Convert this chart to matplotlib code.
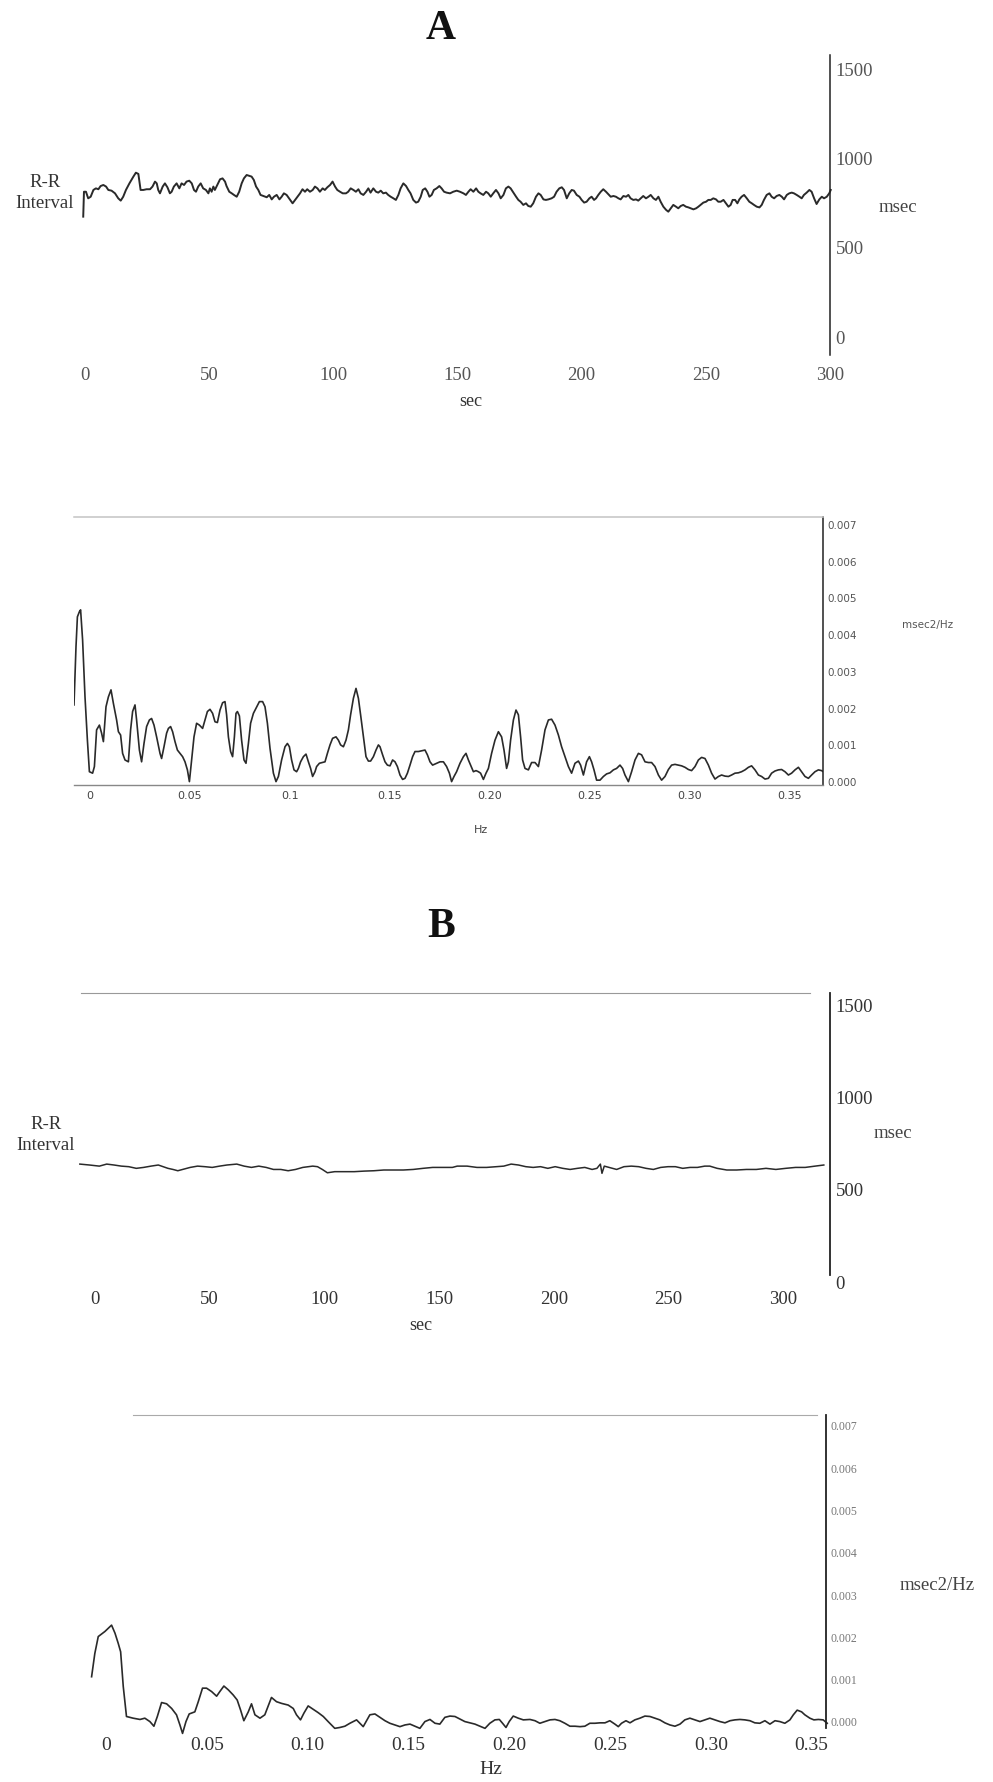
import numpy as np
import matplotlib
matplotlib.use('Agg')
import matplotlib.pyplot as plt

# ---------------- DATA ----------------
# Panel A: R-R interval (sec, msec)
t_a1 = [-0.7, -0.4, 0.4, 1.3, 2.3, 3.4, 4.4, 5.4, 6.3, 7.4,
        8.5, 9.4, 10.7, 12.1, 13.4, 14.4, 15.4, 16.5, 17.9, 19.5,
        20.5, 21.5, 22.4, 23.5, 24.8, 26.2, 27.2, 28.2, 28.9, 29.5,
        30.2, 31.3, 32.2, 33.2, 34.2, 34.9, 35.8, 36.9, 38.0, 38.9,
        39.9, 40.9, 42.0, 43.0, 43.9, 44.7, 45.6, 46.6, 47.6, 48.7,
        49.7, 50.3, 51.0, 51.7, 52.3, 53.3, 54.4, 55.4, 56.4, 57.0,
        58.1, 59.1, 60.0, 61.1, 62.1, 63.1, 64.0, 65.1, 66.2, 67.1,
        68.0, 68.9, 69.8, 70.7, 71.8, 73.2, 74.2, 75.2, 76.1, 77.2,
        78.3, 79.2, 80.1, 81.2, 82.6, 83.6, 84.6, 85.5, 86.6, 87.6,
        88.6, 89.5, 90.6, 91.7, 92.6, 93.6, 94.6, 95.7, 96.6, 97.6,
        98.7, 99.7, 100.7, 101.6, 102.7, 103.8, 105.1, 106.0, 107.0, 108.1,
        109.1, 110.1, 111.0, 112.1, 113.2, 114.1, 115.0, 116.1, 117.2, 118.1,
        119.1, 120.1, 121.2, 122.1, 123.1, 124.2, 125.2, 126.2, 127.1, 128.2,
        129.3, 130.2, 131.1, 132.2, 133.3, 134.2, 135.2, 136.0, 137.0, 137.9,
        138.7, 139.6, 140.5, 141.6, 142.7, 143.6, 144.6, 145.6]
rr_a1 = [676, 816, 816, 779, 788, 826, 835, 830, 848, 854,
         845, 826, 822, 807, 779, 766, 788, 826, 863, 901,
         923, 916, 826, 826, 830, 830, 845, 873, 863, 826,
         807, 845, 863, 841, 807, 816, 845, 863, 835, 863,
         854, 873, 878, 863, 826, 816, 845, 863, 835, 826,
         807, 835, 816, 845, 826, 854, 886, 891, 873, 848,
         816, 807, 798, 788, 816, 863, 891, 910, 905, 901,
         882, 845, 826, 798, 792, 785, 798, 773, 788, 798,
         773, 788, 807, 798, 770, 751, 770, 788, 807, 830,
         816, 830, 816, 826, 845, 835, 816, 835, 826, 841,
         854, 873, 845, 826, 816, 807, 807, 816, 835, 826,
         816, 830, 807, 798, 816, 835, 811, 835, 816, 811,
         822, 807, 811, 798, 788, 779, 770, 798, 835, 863,
         848, 826, 807, 770, 755, 760, 788, 826, 835, 816,
         788, 798, 826, 835, 848, 835, 816, 811]
t_a2 = [147.0, 148.3, 149.7, 151.0, 152.4, 153.4, 154.4, 155.3, 156.4, 157.5,
        158.4, 159.3, 160.4, 161.5, 162.4, 163.4, 164.4, 165.5, 166.5, 167.4,
        168.5, 169.5, 170.5, 171.4, 172.5, 173.6, 174.5, 175.4, 176.5, 177.6,
        178.5, 179.5, 180.5, 181.6, 182.6, 183.5, 184.6, 185.6, 186.6, 187.9,
        188.9, 189.9, 191.0, 192.0, 192.9, 194.0, 195.0, 196.0, 196.9, 198.0,
        199.1, 200.0, 201.0, 202.0, 203.1, 204.0, 205.0, 205.8, 206.7, 207.7,
        208.7, 209.8, 210.7, 211.7, 212.8, 213.8, 214.8, 215.7, 216.8, 217.9,
        218.8, 219.7, 220.8, 221.9, 222.8, 223.8, 224.8, 225.9, 226.9, 227.8,
        228.9, 229.9, 230.9, 231.8, 232.9, 234.0, 234.9, 235.9, 236.9, 238.0,
        238.9, 239.9, 240.9, 242.0, 243.0, 243.9, 245.0, 246.1, 247.0, 247.9,
        249.0, 250.1, 251.0, 252.0, 253.0, 254.1, 255.0, 256.0, 257.1, 258.1,
        259.1, 260.0, 260.8, 261.8, 262.7, 263.5, 264.4, 265.4, 266.5, 267.5,
        268.5, 269.4, 270.5, 271.6, 272.5, 273.4, 274.5, 275.6, 276.5, 277.5,
        278.5, 279.6, 280.6, 281.5, 282.6, 283.6, 284.6, 285.5, 286.6, 287.7,
        288.6, 289.5, 290.6, 291.7, 292.6, 293.6, 294.6, 295.7, 296.7, 297.6,
        298.7, 299.7, 300.3]
rr_a2 = [807, 816, 822, 816, 807, 798, 816, 830, 816, 835,
         816, 807, 798, 816, 807, 788, 807, 826, 807, 779,
         798, 835, 845, 835, 811, 788, 770, 760, 742, 751,
         736, 732, 751, 788, 807, 798, 773, 770, 773, 779,
         788, 816, 835, 841, 826, 779, 807, 826, 822, 798,
         788, 770, 755, 760, 779, 788, 770, 779, 798, 816,
         830, 816, 803, 788, 792, 788, 779, 773, 792, 788,
         798, 779, 770, 773, 766, 779, 792, 779, 788, 798,
         779, 770, 788, 760, 732, 714, 704, 723, 742, 732,
         723, 736, 742, 732, 728, 723, 717, 723, 732, 742,
         755, 760, 770, 770, 779, 773, 760, 760, 770, 751,
         732, 742, 770, 770, 751, 773, 788, 798, 779, 760,
         751, 742, 732, 728, 742, 770, 798, 807, 788, 779,
         792, 798, 788, 773, 798, 807, 811, 807, 798, 788,
         779, 798, 811, 826, 816, 779, 747, 773, 788, 779,
         788, 807, 826]

# Panel A: power spectrum (Hz, value in 0.001 msec2/Hz)
f_a1 = [-0.0080, -0.0070, -0.0063, -0.0053, -0.0047, -0.0037, -0.0025, -0.0013, -0.0003, 0.0013,
        0.0022, 0.0033, 0.0047, 0.0058, 0.0067, 0.0080, 0.0092, 0.0105, 0.0117, 0.0133,
        0.0142, 0.0153, 0.0163, 0.0175, 0.0192, 0.0203, 0.0213, 0.0225, 0.0233, 0.0247,
        0.0258, 0.0270, 0.0283, 0.0297, 0.0308, 0.0320, 0.0333, 0.0350, 0.0358, 0.0370,
        0.0383, 0.0392, 0.0403, 0.0413, 0.0425, 0.0437, 0.0450, 0.0463, 0.0475, 0.0487,
        0.0497, 0.0508, 0.0520, 0.0533, 0.0547, 0.0563, 0.0575, 0.0587, 0.0600, 0.0613,
        0.0625, 0.0637, 0.0650, 0.0663, 0.0675, 0.0683, 0.0692, 0.0703, 0.0713, 0.0722,
        0.0730, 0.0737, 0.0747, 0.0758, 0.0770, 0.0780, 0.0792, 0.0803, 0.0817, 0.0830,
        0.0847, 0.0863, 0.0875, 0.0887, 0.0900, 0.0917, 0.0930, 0.0942, 0.0958, 0.0975,
        0.0987, 0.0997, 0.1008, 0.1020, 0.1033, 0.1042, 0.1053, 0.1067, 0.1080, 0.1092,
        0.1103, 0.1113, 0.1125, 0.1133, 0.1147, 0.1160, 0.1175, 0.1187, 0.1200, 0.1213,
        0.1230, 0.1242, 0.1253, 0.1267, 0.1280, 0.1292, 0.1303, 0.1317, 0.1330, 0.1342,
        0.1353, 0.1367, 0.1380, 0.1392, 0.1403, 0.1417, 0.1430, 0.1442, 0.1450, 0.1463,
        0.1475, 0.1487, 0.1500, 0.1513, 0.1525, 0.1537, 0.1550, 0.1563, 0.1575, 0.1587,
        0.1600, 0.1613, 0.1625, 0.1642, 0.1658, 0.1675, 0.1687, 0.1700, 0.1713, 0.1733,
        0.1750, 0.1767, 0.1783, 0.1797, 0.1808, 0.1820, 0.1833, 0.1850, 0.1867, 0.1880,
        0.1892, 0.1903, 0.1917, 0.1930, 0.1942, 0.1953, 0.1967, 0.1980]
p_a1 = [2.10, 3.69, 4.50, 4.64, 4.69, 3.87, 2.32, 1.14, 0.28, 0.24,
        0.42, 1.42, 1.55, 1.33, 1.10, 2.05, 2.32, 2.51, 2.14, 1.69,
        1.37, 1.28, 0.78, 0.60, 0.55, 1.42, 1.92, 2.10, 1.69, 0.87,
        0.55, 1.05, 1.51, 1.69, 1.73, 1.55, 1.23, 0.78, 0.64, 0.96,
        1.33, 1.46, 1.51, 1.37, 1.10, 0.87, 0.78, 0.69, 0.55, 0.33,
        0.01, 0.60, 1.23, 1.60, 1.55, 1.46, 1.69, 1.92, 1.98, 1.87,
        1.64, 1.62, 1.96, 2.16, 2.19, 1.83, 1.23, 0.83, 0.69, 1.23,
        1.87, 1.92, 1.80, 1.14, 0.60, 0.51, 1.05, 1.60, 1.87, 2.01,
        2.19, 2.19, 2.05, 1.60, 0.92, 0.24, 0.01, 0.15, 0.60, 0.96,
        1.05, 0.96, 0.60, 0.33, 0.28, 0.37, 0.55, 0.69, 0.76, 0.55,
        0.37, 0.15, 0.28, 0.42, 0.51, 0.53, 0.55, 0.78, 1.01, 1.19,
        1.23, 1.14, 1.01, 0.96, 1.14, 1.42, 1.83, 2.28, 2.55, 2.28,
        1.83, 1.23, 0.69, 0.57, 0.57, 0.69, 0.87, 1.01, 0.96, 0.74,
        0.55, 0.46, 0.44, 0.60, 0.55, 0.42, 0.19, 0.07, 0.10, 0.24,
        0.46, 0.69, 0.83, 0.83, 0.85, 0.87, 0.74, 0.55, 0.46, 0.51,
        0.55, 0.55, 0.42, 0.24, 0.01, 0.15, 0.28, 0.51, 0.69, 0.78,
        0.60, 0.46, 0.28, 0.31, 0.28, 0.24, 0.07, 0.24]
f_a2 = [0.1992, 0.2008, 0.2025, 0.2042, 0.2058, 0.2070, 0.2083, 0.2092, 0.2103, 0.2117,
        0.2130, 0.2142, 0.2153, 0.2163, 0.2175, 0.2192, 0.2208, 0.2225, 0.2242, 0.2258,
        0.2275, 0.2292, 0.2308, 0.2325, 0.2342, 0.2358, 0.2375, 0.2392, 0.2408, 0.2425,
        0.2442, 0.2453, 0.2467, 0.2483, 0.2497, 0.2508, 0.2520, 0.2533, 0.2550, 0.2567,
        0.2583, 0.2600, 0.2617, 0.2633, 0.2650, 0.2663, 0.2675, 0.2692, 0.2708, 0.2725,
        0.2742, 0.2758, 0.2775, 0.2792, 0.2808, 0.2825, 0.2842, 0.2858, 0.2875, 0.2892,
        0.2908, 0.2925, 0.2942, 0.2958, 0.2975, 0.2992, 0.3008, 0.3025, 0.3042, 0.3058,
        0.3075, 0.3092, 0.3108, 0.3125, 0.3142, 0.3158, 0.3175, 0.3192, 0.3208, 0.3225,
        0.3242, 0.3258, 0.3275, 0.3292, 0.3308, 0.3325, 0.3342, 0.3358, 0.3375, 0.3392,
        0.3408, 0.3425, 0.3442, 0.3458, 0.3475, 0.3492, 0.3508, 0.3525, 0.3542, 0.3558,
        0.3575, 0.3592, 0.3608, 0.3625, 0.3642, 0.3658, 0.3675]
p_a2 = [0.37, 0.78, 1.14, 1.37, 1.23, 0.87, 0.37, 0.55, 1.14, 1.69,
        1.96, 1.83, 1.23, 0.60, 0.37, 0.33, 0.53, 0.53, 0.42, 0.87,
        1.42, 1.69, 1.71, 1.55, 1.28, 0.96, 0.69, 0.42, 0.24, 0.51,
        0.57, 0.46, 0.19, 0.55, 0.69, 0.55, 0.33, 0.05, 0.05, 0.15,
        0.22, 0.25, 0.33, 0.37, 0.46, 0.37, 0.19, 0.01, 0.28, 0.60,
        0.78, 0.74, 0.55, 0.53, 0.53, 0.42, 0.19, 0.05, 0.15, 0.34,
        0.46, 0.48, 0.46, 0.44, 0.40, 0.34, 0.31, 0.42, 0.60, 0.67,
        0.64, 0.46, 0.24, 0.08, 0.15, 0.19, 0.16, 0.15, 0.19, 0.24,
        0.25, 0.28, 0.33, 0.40, 0.44, 0.33, 0.19, 0.15, 0.08, 0.10,
        0.24, 0.30, 0.33, 0.34, 0.28, 0.19, 0.24, 0.33, 0.40, 0.28,
        0.15, 0.10, 0.19, 0.28, 0.33, 0.31, 0.25]

# Panel B: R-R interval (sec, msec)
t_b = [-6.6, -2.4, 1.9, 5.1, 8.3, 11.5, 14.7, 18.0, 21.2, 24.4,
       27.6, 29.7, 31.8, 34.0, 36.1, 38.2, 41.5, 44.7, 47.9, 51.1,
       54.3, 57.5, 61.8, 65.0, 68.2, 71.4, 74.6, 77.8, 81.0, 84.2,
       87.4, 90.6, 94.9, 97.0, 99.1, 101.3, 104.5, 108.8, 113.0, 117.3,
       121.6, 125.9, 130.1, 134.4, 138.7, 143.0, 147.2, 151.5, 155.8, 157.9,
       162.2, 166.5, 170.7, 175.0, 178.2, 181.4, 184.6, 187.8, 191.0, 194.2,
       197.4, 200.6, 203.9, 207.1, 210.3, 213.5, 216.7, 218.8, 220.3, 221.0,
       222.0, 224.1, 227.4, 230.6, 233.8, 237.0, 240.2, 243.4, 246.6, 249.8,
       253.0, 256.2, 259.4, 262.6, 265.8, 268.0, 271.2, 275.4, 279.7, 284.0,
       288.3, 292.5, 296.8, 301.1, 305.4, 309.6, 313.9, 317.7]
rr_b = [639, 634, 628, 639, 634, 628, 625, 616, 621, 628,
        634, 625, 616, 610, 603, 610, 621, 628, 625, 621,
        628, 634, 639, 628, 621, 628, 621, 610, 610, 603,
        610, 621, 628, 625, 610, 592, 598, 598, 598, 601,
        603, 607, 607, 607, 610, 616, 621, 621, 621, 628,
        628, 621, 621, 625, 628, 639, 634, 625, 621, 625,
        616, 625, 616, 610, 616, 621, 610, 616, 639, 589,
        628, 621, 610, 625, 628, 625, 616, 610, 621, 625,
        625, 616, 621, 621, 628, 628, 616, 607, 607, 610,
        610, 616, 610, 616, 621, 621, 628, 634]

# Panel B: power spectrum (Hz, value in 0.001 msec2/Hz)
f_b1 = [-0.0071, -0.0055, -0.0038, -0.0005, 0.0028, 0.0045, 0.0061, 0.0073, 0.0086, 0.0102,
        0.0135, 0.0169, 0.0193, 0.0218, 0.0238, 0.0255, 0.0276, 0.0301, 0.0326, 0.0350,
        0.0367, 0.0380, 0.0397, 0.0413, 0.0441, 0.0458, 0.0479, 0.0499, 0.0524, 0.0549,
        0.0565, 0.0585, 0.0607, 0.0631, 0.0651, 0.0668, 0.0684, 0.0706, 0.0722, 0.0739,
        0.0764, 0.0788, 0.0821, 0.0846, 0.0871, 0.0904, 0.0929, 0.0945, 0.0965, 0.0982,
        0.1003, 0.1028, 0.1053, 0.1078, 0.1102, 0.1135, 0.1160, 0.1185, 0.1210, 0.1243,
        0.1276, 0.1309, 0.1334, 0.1359, 0.1384, 0.1408, 0.1433, 0.1458, 0.1483, 0.1508,
        0.1532, 0.1557, 0.1582, 0.1607, 0.1632, 0.1656, 0.1681, 0.1706, 0.1731, 0.1747]
p_b1 = [1.07, 1.62, 2.02, 2.14, 2.29, 2.10, 1.86, 1.66, 0.84, 0.13,
        0.09, 0.06, 0.09, 0.01, -0.10, 0.13, 0.46, 0.43, 0.32, 0.17,
        -0.07, -0.27, 0.01, 0.19, 0.24, 0.48, 0.80, 0.80, 0.72, 0.61,
        0.72, 0.85, 0.76, 0.64, 0.52, 0.28, 0.03, 0.24, 0.43, 0.17,
        0.09, 0.17, 0.58, 0.48, 0.44, 0.40, 0.32, 0.17, 0.05, 0.21,
        0.38, 0.30, 0.22, 0.13, 0.01, -0.15, -0.13, -0.10, -0.03, 0.05,
        -0.11, 0.17, 0.19, 0.11, 0.03, -0.03, -0.07, -0.11, -0.07, -0.05,
        -0.10, -0.15, 0.01, 0.06, -0.03, -0.05, 0.11, 0.14, 0.13, 0.09]
f_b2 = [0.1780, 0.1805, 0.1830, 0.1855, 0.1880, 0.1904, 0.1929, 0.1951, 0.1967, 0.1984,
        0.2000, 0.2020, 0.2045, 0.2070, 0.2103, 0.2128, 0.2152, 0.2177, 0.2202, 0.2227,
        0.2251, 0.2276, 0.2301, 0.2326, 0.2351, 0.2375, 0.2400, 0.2425, 0.2450, 0.2475,
        0.2499, 0.2524, 0.2541, 0.2557, 0.2579, 0.2599, 0.2623, 0.2648, 0.2673, 0.2698,
        0.2723, 0.2747, 0.2772, 0.2797, 0.2822, 0.2847, 0.2871, 0.2896, 0.2921, 0.2946,
        0.2971, 0.2995, 0.3020, 0.3045, 0.3070, 0.3095, 0.3119, 0.3144, 0.3169, 0.3194,
        0.3218, 0.3243, 0.3268, 0.3293, 0.3318, 0.3342, 0.3367, 0.3392, 0.3409, 0.3428,
        0.3450, 0.3466, 0.3491, 0.3511, 0.3533, 0.3557, 0.3577]
p_b2 = [0.01, -0.02, -0.05, -0.10, -0.15, -0.03, 0.05, 0.06, -0.03, -0.13,
        0.01, 0.14, 0.09, 0.05, 0.06, 0.03, -0.03, 0.01, 0.05, 0.06,
        0.03, -0.03, -0.10, -0.10, -0.11, -0.10, -0.03, -0.03, -0.02, -0.02,
        0.03, -0.05, -0.11, -0.03, 0.03, -0.02, 0.05, 0.09, 0.14, 0.13,
        0.09, 0.05, -0.02, -0.07, -0.10, -0.05, 0.05, 0.09, 0.05, 0.01,
        0.05, 0.09, 0.05, 0.01, -0.02, 0.03, 0.05, 0.06, 0.05, 0.03,
        -0.02, -0.03, 0.03, -0.05, 0.03, 0.01, -0.03, 0.05, 0.17, 0.28,
        0.24, 0.17, 0.09, 0.05, 0.06, 0.05, -0.03]

rr_ticks = [0, 500, 1000, 1500]
sec_ticks = [0, 50, 100, 150, 200, 250, 300]
psd_ticks = [0.000, 0.001, 0.002, 0.003, 0.004, 0.005, 0.006, 0.007]
psd_tick_labels = ['0.000', '0.001', '0.002', '0.003', '0.004', '0.005', '0.006', '0.007']
hz_ticks = [0, 0.05, 0.10, 0.15, 0.20, 0.25, 0.30, 0.35]
hz_labels_a = ['0', '0.05', '0.1', '0.15', '0.20', '0.25', '0.30', '0.35']
hz_labels_b = ['0', '0.05', '0.10', '0.15', '0.20', '0.25', '0.30', '0.35']

# ---------------- FIGURE ----------------
W, H = 993, 1782
fig = plt.figure(figsize=(W / 100, H / 100), dpi=100)
SERIF = 'Liberation Serif'
SANS = 'DejaVu Sans'
LINE = '#2a2a2a'


def add_ax(x0, x1, ytop, ybot):
    return fig.add_axes([x0 / W, 1 - ybot / H, (x1 - x0) / W, (ybot - ytop) / H])


def ftext(x, y, s, **kw):
    fig.text(x / W, 1 - y / H, s, ha=kw.pop('ha', 'center'), va=kw.pop('va', 'center'), **kw)


def base(ax):
    for s in ['left', 'top', 'bottom']:
        ax.spines[s].set_visible(False)
    ax.spines['right'].set_color('#222222')
    ax.spines['right'].set_linewidth(1.1)
    ax.yaxis.tick_right()
    ax.patch.set_alpha(0)


# ---- Panel A, R-R interval ----
ax1 = add_ax(80, 830, 55, 355)
base(ax1)
ax1.plot(np.array(t_a1 + t_a2), np.array(rr_a1 + rr_a2), color=LINE, lw=1.4, clip_on=False)
ax1.set_xlim(-2.0, 300)
ax1.set_ylim(-101, 1584)
ax1.set_yticks(rr_ticks)
ax1.set_xticks(sec_ticks)
ax1.tick_params(axis='both', length=0, labelsize=13.5, labelfontfamily=SERIF, labelcolor='#555555')
ax1.tick_params(axis='y', pad=4)
ax1.tick_params(axis='x', pad=9)

# ---- Panel A, spectrum ----
ax2 = add_ax(74, 823, 517, 785)
base(ax2)
ax2.spines['top'].set_visible(True)
ax2.spines['top'].set_color('#c4c4c4')
ax2.spines['top'].set_linewidth(1.1)
ax2.spines['bottom'].set_visible(True)
ax2.spines['bottom'].set_color('#888888')
ax2.spines['bottom'].set_linewidth(1.0)
ax2.plot(np.array(f_a1 + f_a2), np.array(p_a1 + p_a2) * 1e-3, color=LINE, lw=1.2)
ax2.set_xlim(-0.008, 0.3665)
ax2.set_ylim(-0.000082, 0.00722)
ax2.set_yticks(psd_ticks)
ax2.set_yticklabels(psd_tick_labels)
ax2.set_xticks(hz_ticks)
ax2.set_xticklabels(hz_labels_a)
ax2.tick_params(axis='y', length=0, pad=3, labelsize=7.5, labelfontfamily=SANS, labelcolor='#555555')
ax2.tick_params(axis='x', length=0, pad=4, labelsize=8, labelfontfamily=SANS, labelcolor='#444444')

# ---- Panel B, R-R interval ----
ax3 = add_ax(81, 830, 993, 1284)
base(ax3)
ax3.spines['right'].set_bounds(38, 1565)
ax3.spines['right'].set_linewidth(1.3)
ax3.spines['top'].set_visible(True)
ax3.spines['top'].set_color('#999999')
ax3.spines['top'].set_bounds(-6.1, 311.7)
ax3.plot(t_b, rr_b, color=LINE, lw=1.1, clip_on=False)
ax3.set_xlim(-6.1, 320.4)
ax3.set_ylim(-10, 1565)
ax3.set_yticks(rr_ticks)
ax3.set_xticks(sec_ticks)
ax3.tick_params(axis='both', length=0, labelsize=13.5, labelfontfamily=SERIF, labelcolor='#333333')
ax3.tick_params(axis='y', pad=4)
ax3.tick_params(axis='x', pad=5)

# ---- Panel B, spectrum ----
ax4 = add_ax(92, 826, 1415, 1728)
base(ax4)
ax4.spines['right'].set_linewidth(1.3)
ax4.spines['top'].set_visible(True)
ax4.spines['top'].set_color('#aaaaaa')
ax4.spines['top'].set_bounds(0.0134, 0.3527)
ax4.plot(np.array(f_b1 + f_b2), np.array(p_b1 + p_b2) * 1e-3, color=LINE, lw=1.2, clip_on=False)
ax4.set_xlim(-0.0069, 0.3571)
ax4.set_ylim(-0.000142, 0.007258)
ax4.set_yticks(psd_ticks)
ax4.set_yticklabels(psd_tick_labels)
ax4.set_xticks(hz_ticks)
ax4.set_xticklabels(hz_labels_b)
ax4.tick_params(axis='y', length=0, pad=3, labelsize=8.5, labelfontfamily=SERIF, labelcolor='#777777')
ax4.tick_params(axis='x', length=0, pad=6.5, labelsize=14, labelfontfamily=SERIF, labelcolor='#333333')

# ---- Texts ----
ftext(441, 29, 'A', fontsize=30, fontweight='bold', family=SERIF, color='#111111')
ftext(45, 193, 'R-R\nInterval', fontsize=13.5, family=SERIF, color='#333333', linespacing=1.25)
ftext(898, 207, 'msec', fontsize=13.5, family=SERIF, color='#444444')
ftext(471, 401, 'sec', fontsize=13, family=SERIF, color='#333333')
ftext(928, 625, 'msec2/Hz', fontsize=7.5, family=SANS, color='#555555')
ftext(481, 830, 'Hz', fontsize=8, family=SANS, color='#444444')

ftext(441, 927, 'B', fontsize=30, fontweight='bold', family=SERIF, color='#111111')
ftext(46, 1135, 'R-R\nInterval', fontsize=13.5, family=SERIF, color='#333333', linespacing=1.25)
ftext(893, 1133, 'msec', fontsize=13.5, family=SERIF, color='#444444')
ftext(421, 1325, 'sec', fontsize=13, family=SERIF, color='#333333')
ftext(937, 1585, 'msec2/Hz', fontsize=13.5, family=SERIF, color='#444444')
ftext(491, 1770, 'Hz', fontsize=14, family=SERIF, color='#333333')

fig.savefig('out.png', dpi=100, facecolor='white')
